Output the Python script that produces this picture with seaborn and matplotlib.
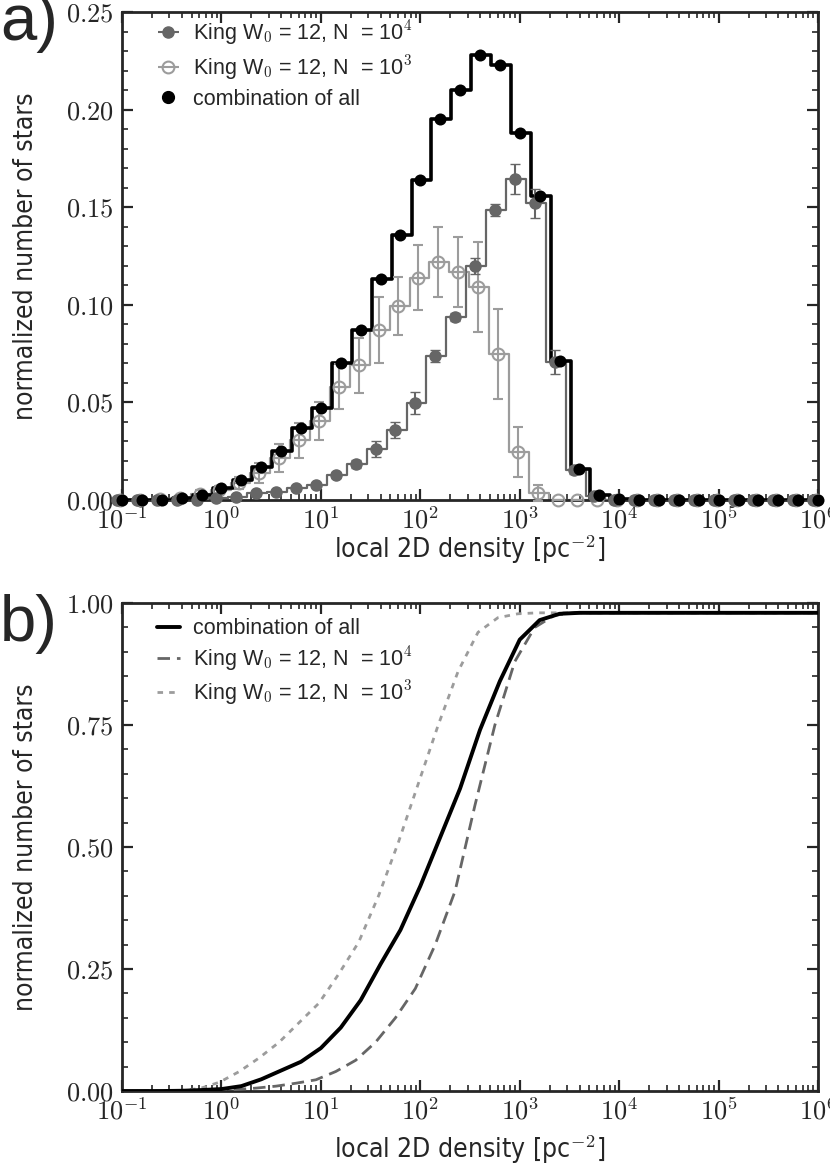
import numpy as np
import matplotlib
matplotlib.use('Agg')
import matplotlib.pyplot as plt
import seaborn as sns
from matplotlib import font_manager
from matplotlib.ticker import MultipleLocator, LogLocator, FuncFormatter, NullFormatter
from matplotlib.lines import Line2D

# ---------------- data ----------------
log_density = [-1.0, -0.8, -0.6, -0.4, -0.2, 0.0, 0.2, 0.4, 0.6, 0.8,
               1.0, 1.2, 1.4, 1.6, 1.8, 2.0, 2.2, 2.4, 2.6, 2.8,
               3.0, 3.2, 3.4, 3.6, 3.8, 4.0, 4.2, 4.4, 4.6, 4.8,
               5.0, 5.2, 5.4, 5.6, 5.8, 6.0]
shift_n4 = -0.05   # bin centres of the N=1e4 run (dex)
shift_n3 = -0.02   # bin centres of the N=1e3 run (dex)

comb_hist = [0, 0, 0.0002, 0.001, 0.0025, 0.006, 0.010, 0.017, 0.025, 0.037,
             0.047, 0.070, 0.087, 0.113, 0.136, 0.164, 0.195, 0.210, 0.228, 0.223,
             0.188, 0.156, 0.071, 0.016, 0.0025, 0.0005, 0, 0, 0, 0,
             0, 0, 0, 0, 0, 0]
n4_hist = [0, 0, 0, 0, 0, 0.001, 0.0017, 0.0034, 0.0043, 0.006,
           0.0077, 0.0128, 0.0183, 0.026, 0.036, 0.0497, 0.0738, 0.0937, 0.120, 0.1486,
           0.1644, 0.152, 0.0707, 0.0154, 0.002, 0, 0, 0, 0, 0,
           0, 0, 0, 0, 0, 0]
n4_err = [0, 0, 0, 0, 0, 0.0005, 0.0007, 0.001, 0.001, 0.001,
          0.0012, 0.0015, 0.002, 0.004, 0.004, 0.0055, 0.003, 0.002, 0.004, 0.003,
          0.0075, 0.0075, 0.006, 0.002, 0.001, 0, 0, 0, 0, 0,
          0, 0, 0, 0, 0, 0]
n3_hist = [0, 0, 0.0003, 0.001, 0.003, 0.005, 0.0087, 0.0138, 0.0215, 0.0307,
           0.0405, 0.058, 0.069, 0.087, 0.0994, 0.114, 0.122, 0.117, 0.109, 0.075,
           0.0246, 0.0036, 0, 0, 0, 0, 0, 0, 0, 0,
           0, 0, 0, 0, 0, 0]
n3_err = [0, 0, 0.0005, 0.001, 0.002, 0.002, 0.003, 0.005, 0.007, 0.009,
          0.0095, 0.0115, 0.014, 0.017, 0.015, 0.0165, 0.018, 0.018, 0.023, 0.023,
          0.013, 0.004, 0, 0, 0, 0, 0, 0, 0, 0,
          0, 0, 0, 0, 0, 0]

comb_cdf = [0, 0, 0, 0.0005, 0.002, 0.004, 0.010, 0.024, 0.042, 0.060,
            0.088, 0.13, 0.186, 0.26, 0.33, 0.42, 0.52, 0.62, 0.74, 0.84,
            0.925, 0.965, 0.978, 0.98, 0.98, 0.98, 0.98, 0.98, 0.98, 0.98,
            0.98, 0.98, 0.98, 0.98, 0.98, 0.98]
n4_cdf = [0, 0, 0, 0, 0, 0.001, 0.003, 0.006, 0.010, 0.016,
          0.023, 0.040, 0.063, 0.10, 0.15, 0.21, 0.30, 0.41, 0.586, 0.75,
          0.88, 0.95, 0.975, 0.98, 0.98, 0.98, 0.98, 0.98, 0.98, 0.98,
          0.98, 0.98, 0.98, 0.98, 0.98, 0.98]
n3_cdf = [0, 0, 0, 0.001, 0.005, 0.018, 0.04, 0.068, 0.10, 0.14,
          0.18, 0.24, 0.305, 0.40, 0.51, 0.63, 0.75, 0.86, 0.94, 0.97,
          0.978, 0.98, 0.98, 0.98, 0.98, 0.98, 0.98, 0.98, 0.98, 0.98,
          0.98, 0.98, 0.98, 0.98, 0.98, 0.98]

label_all = 'combination of all'
label_n4 = r'King W$_{\mathsf{0}}$ = 12, N  = 10$^{\mathsf{4}}$'
label_n3 = r'King W$_{\mathsf{0}}$ = 12, N  = 10$^{\mathsf{3}}$'
xlabel = r'local 2D density [pc$^{\mathsf{-2}}$]'
ylabel = 'normalized number of stars'

# ---------------- style ----------------
sns.set_style('ticks')
plt.rcParams.update({
    'font.family': ['Liberation Sans', 'DejaVu Sans'],
    'mathtext.fontset': 'cm',
    'xtick.direction': 'in', 'ytick.direction': 'in',
    'xtick.top': True, 'ytick.right': True,
    'axes.linewidth': 2.0,
    'xtick.major.width': 1.6, 'ytick.major.width': 1.6,
    'xtick.minor.width': 1.2, 'ytick.minor.width': 1.2,
    'xtick.major.size': 8, 'ytick.major.size': 8,
    'xtick.minor.size': 4, 'ytick.minor.size': 4,
    'xtick.major.pad': 5, 'ytick.major.pad': 6,
})

installed = {f.name for f in font_manager.fontManager.ttflist}
if 'Liberation Sans Narrow' in installed:
    label_font = dict(family=['Liberation Sans Narrow', 'DejaVu Sans'], size=23)
else:
    label_font = dict(family=['DejaVu Sans'], stretch='condensed', size=19)

C_ALL = '#000000'
C_N4 = '#666666'
C_N3 = '#9c9c9c'

x_all = 10 ** np.array(log_density)
x_n4 = 10 ** (np.array(log_density) + shift_n4)
x_n3 = 10 ** (np.array(log_density) + shift_n3)

fig = plt.figure(figsize=(8.3, 11.71), dpi=100)
ax1 = fig.add_axes([0.147, 0.573, 0.8386, 0.4167])
ax2 = fig.add_axes([0.147, 0.0683, 0.8386, 0.4167])

for ax in (ax1, ax2):
    ax.set_xscale('log')

# ---------------- panel a ----------------
sns.lineplot(x=x_n3, y=n3_hist, ax=ax1, color=C_N3, lw=1.6, drawstyle='steps-mid',
             estimator=None, sort=True, zorder=2)
sns.lineplot(x=x_n4, y=n4_hist, ax=ax1, color=C_N4, lw=1.6, drawstyle='steps-mid',
             estimator=None, sort=True, zorder=3)
sns.lineplot(x=x_all, y=comb_hist, ax=ax1, color=C_ALL, lw=2.6, drawstyle='steps-mid',
             estimator=None, sort=True, zorder=4)

eb3 = dict(fmt='o', color=C_N3, mfc='none', mec=C_N3, ms=8.5, mew=1.5,
           elinewidth=1.5, capsize=3.5, capthick=1.5)
eb4 = dict(fmt='o', color=C_N4, mfc=C_N4, mec=C_N4, ms=8, mew=1,
           elinewidth=1.5, capsize=3.5, capthick=1.5)
e3 = ax1.errorbar(x_n3, n3_hist, yerr=n3_err, zorder=5, **eb3)
e4 = ax1.errorbar(x_n4, n4_hist, yerr=n4_err, zorder=6, **eb4)
for cont in (e3, e4):
    for art in [cont[0]] + list(cont[1]) + list(cont[2]):
        art.set_clip_on(False)
sns.scatterplot(x=x_all, y=comb_hist, ax=ax1, color=C_ALL, s=75, edgecolor=C_ALL,
                linewidth=0, zorder=7, clip_on=False)

# legend handles drawn with horizontal bars, as in the reference
h4 = ax1.errorbar([], [], xerr=[], **eb4)
h3 = ax1.errorbar([], [], xerr=[], **eb3)
h_all = Line2D([], [], ls='none', marker='o', color=C_ALL, ms=8.5)

ax1.legend([h4, h3, h_all], [label_n4, label_n3, label_all], loc='upper left',
           frameon=False, fontsize=15.5, handlelength=1.1, handletextpad=0.6,
           borderaxespad=0.3, labelspacing=0.3, bbox_to_anchor=(0.028, 1.018))
ax1.set_ylim(0, 0.25)
ax1.yaxis.set_major_locator(MultipleLocator(0.05))
ax1.yaxis.set_minor_locator(MultipleLocator(0.01))

# ---------------- panel b ----------------
sns.lineplot(x=x_n3, y=n3_cdf, ax=ax2, color=C_N3, lw=2.0, ls=(0, (2, 2.2)),
             estimator=None, label=label_n3, zorder=2)
sns.lineplot(x=x_n4, y=n4_cdf, ax=ax2, color=C_N4, lw=2.0, ls=(0, (4.5, 2.5)),
             estimator=None, label=label_n4, zorder=3)
sns.lineplot(x=x_all, y=comb_cdf, ax=ax2, color=C_ALL, lw=2.8, ls='-',
             estimator=None, label=label_all, zorder=4)
hb, lb = ax2.get_legend_handles_labels()
order = [2, 1, 0]
ax2.legend([hb[i] for i in order], [lb[i] for i in order], loc='upper left',
           frameon=False, fontsize=15.5, handlelength=1.1, handletextpad=0.6,
           borderaxespad=0.3, labelspacing=0.25, bbox_to_anchor=(0.028, 1.0))
ax2.set_ylim(0, 1.0)
ax2.yaxis.set_major_locator(MultipleLocator(0.25))
ax2.yaxis.set_minor_locator(MultipleLocator(0.05))

# ---------------- common axis formatting ----------------
logfmt = FuncFormatter(lambda v, p: r'$10^{%d}$' % int(round(np.log10(v))))
for ax, xpad in ((ax1, 0.0), (ax2, 6.5)):
    ax.set_xlim(0.1, 1e6)
    ax.xaxis.set_major_locator(LogLocator(base=10, numticks=20))
    ax.xaxis.set_minor_locator(LogLocator(base=10, subs=np.arange(2, 10), numticks=20))
    ax.xaxis.set_major_formatter(logfmt)
    ax.xaxis.set_minor_formatter(NullFormatter())
    ax.yaxis.set_major_formatter(FuncFormatter(lambda v, p: r'$%.2f$' % v))
    ax.tick_params(axis='both', which='major', labelsize=19)
    ax.set_xlabel(xlabel, labelpad=xpad, **label_font)
    ax.set_ylabel(ylabel, labelpad=19, **label_font)
    for s in ax.spines.values():
        s.set_visible(True)
        s.set_linewidth(2.0)

fig.text(0.0, 1.006, 'a)', fontsize=47, ha='left', va='top')
fig.text(0.0, 0.493, 'b)', fontsize=47, ha='left', va='top')

fig.savefig('out.png', dpi=100)
